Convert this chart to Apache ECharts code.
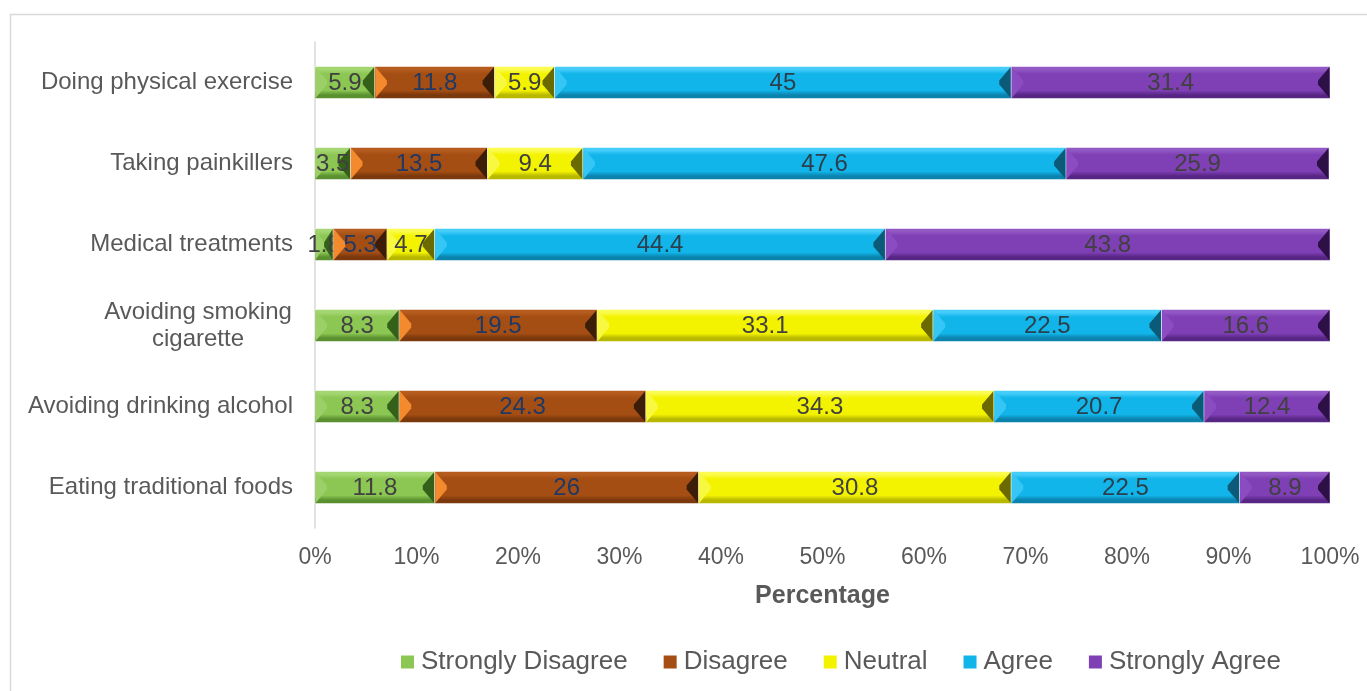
<!DOCTYPE html>
<html>
<head>
<meta charset="utf-8">
<script src="https://cdn.jsdelivr.net/npm/echarts@6/dist/echarts.min.js"></script>
<style>
  html, body { margin: 0; padding: 0; background: #fff; }
  #chart { width: 1367px; height: 691px; }
</style>
</head>
<body>
<div id="chart"></div>
<script>
// Survey items, top to bottom
const categories = [
  'Doing physical exercise',
  'Taking painkillers',
  'Medical treatments',
  'Avoiding smoking\ncigarette',
  'Avoiding drinking alcohol',
  'Eating traditional foods'
];
const seriesNames = ['Strongly Disagree', 'Disagree', 'Neutral', 'Agree', 'Strongly Agree'];

// Percentages per response level, in the order of categories
const stronglyDisagree = [5.9, 3.5, 1.8, 8.3, 8.3, 11.8];
const disagree         = [11.8, 13.5, 5.3, 19.5, 24.3, 26];
const neutral          = [5.9, 9.4, 4.7, 33.1, 34.3, 30.8];
const agree            = [45, 47.6, 44.4, 22.5, 20.7, 22.5];
const stronglyAgree    = [31.4, 25.9, 43.8, 16.6, 12.4, 8.9];

const xTickValues = [0, 10, 20, 30, 40, 50, 60, 70, 80, 90, 100];

const values = [stronglyDisagree, disagree, neutral, agree, stronglyAgree];

const FONT = 'Liberation Sans, Arial, sans-serif';

// Bevelled fill colours: top highlight, face, bottom shade, left facet, right facet
const palette = [
  { top: '#a4d672', face: '#8cc653', bottom: '#5a9030', left: '#9ccf68', right: '#34601a', label: '#404040' },
  { top: '#b55c1e', face: '#a54e13', bottom: '#7a380c', left: '#f38a2e', right: '#3c1d07', label: '#1f3864' },
  { top: '#fbfb50', face: '#f3f300', bottom: '#b8b800', left: '#f8f840', right: '#6a6a00', label: '#404040' },
  { top: '#45cdfa', face: '#12b5ea', bottom: '#0b83ad', left: '#35c6f5', right: '#0a5a78', label: '#2b3f4c' },
  { top: '#9258c4', face: '#7f3fb5', bottom: '#572684', left: '#8a4cc0', right: '#2d1045', label: '#404040' }
];

// Stack the segments: each datum is [start, end, categoryIndex, value]
const stacked = values.map(() => []);
categories.forEach((_, j) => {
  let acc = 0;
  values.forEach((arr, i) => {
    stacked[i].push([acc, acc + arr[j], j, arr[j]]);
    acc += arr[j];
  });
});

function makeRender(p) {
  return function (params, api) {
    const s = api.value(0), e = api.value(1), cat = api.value(2), v = api.value(3);
    const a = api.coord([s, cat]);
    const b = api.coord([e, cat]);
    const h = api.size([0, 1])[1] * 0.395;
    const x0 = a[0], x1 = b[0], yc = a[1];
    const y0 = yc - h / 2, y1 = yc + h / 2, w = x1 - x0;
    const bx = Math.min(12, w / 2);
    const by = h / 2 - 2;
    return {
      type: 'group',
      children: [
        {
          type: 'rect',
          shape: { x: x0, y: y0, width: w, height: h },
          style: {
            fill: new echarts.graphic.LinearGradient(0, 0, 0, 1, [
              { offset: 0, color: p.top },
              { offset: 0.1, color: p.top },
              { offset: 0.24, color: p.face },
              { offset: 0.74, color: p.face },
              { offset: 0.88, color: p.bottom },
              { offset: 1, color: p.bottom }
            ]),
            stroke: 'rgba(255,255,255,0.5)',
            lineWidth: 1
          }
        },
        {
          type: 'polygon',
          shape: { points: [[x0 + 0.5, y0 + 0.5], [x0 + bx, y0 + by], [x0 + bx, y1 - by], [x0 + 0.5, y1 - 0.5]] },
          style: { fill: p.left }
        },
        {
          type: 'polygon',
          shape: { points: [[x1 - 0.5, y0 + 0.5], [x1 - bx, y0 + by], [x1 - bx, y1 - by], [x1 - 0.5, y1 - 0.5]] },
          style: { fill: p.right }
        },
        {
          type: 'text',
          style: {
            x: (x0 + x1) / 2,
            y: yc + 1,
            text: String(v),
            fill: p.label,
            font: '24px ' + FONT,
            align: 'center',
            verticalAlign: 'middle'
          }
        }
      ]
    };
  };
}

const series = seriesNames.map((name, i) => ({
  name,
  type: 'custom',
  renderItem: makeRender(palette[i]),
  encode: { x: [0, 1], y: 2 },
  data: stacked[i],
  itemStyle: { color: palette[i].face },
  silent: true
}));

const chart = echarts.init(document.getElementById('chart'), null, { renderer: 'canvas' });
chart.setOption({
  animation: false,
  backgroundColor: '#fff',
  graphic: [{
    type: 'rect',
    shape: { x: 10.5, y: 14.5, width: 1400, height: 720 },
    style: { fill: 'none', stroke: '#d9d9d9', lineWidth: 1.5 },
    silent: true
  }],
  grid: { left: 315, right: 37, top: 42, bottom: 163, containLabel: false },
  legend: {
    bottom: 11,
    left: 396,
    itemWidth: 13,
    itemHeight: 13,
    itemGap: 36,
    icon: 'rect',
    textStyle: { fontSize: 26, color: '#595959', fontFamily: FONT, padding: [0, 0, 0, 2] },
    data: seriesNames.map((n, i) => ({ name: n, itemStyle: { color: palette[i].face } }))
  },
  xAxis: {
    type: 'value',
    min: 0,
    max: 100,
    interval: 10,
    name: 'Percentage',
    nameLocation: 'middle',
    nameGap: 56,
    nameTextStyle: { fontSize: 25, fontWeight: 'bold', color: '#595959', fontFamily: FONT },
    axisLine: { show: false },
    axisTick: { show: false },
    splitLine: { show: false },
    axisLabel: {
      fontSize: 23,
      color: '#595959',
      margin: 18,
      fontFamily: FONT,
      formatter: v => xTickValues.includes(v) ? v + '%' : ''
    }
  },
  yAxis: {
    type: 'category',
    inverse: true,
    data: categories,
    axisLine: { show: true, lineStyle: { color: '#d9d9d9', width: 1.5 } },
    axisTick: { show: false },
    axisLabel: {
      fontSize: 24,
      color: '#595959',
      margin: 22,
      align: 'right',
      fontFamily: FONT,
      // multi-line labels are centred line by line
      formatter: v => v.indexOf('\n') >= 0
        ? v.split('\n').map(t => '{c|' + t + '}').join('\n')
        : v,
      rich: {
        c: { fontSize: 24, color: '#595959', fontFamily: FONT, width: 190, align: 'center', lineHeight: 27 }
      }
    }
  },
  series
});
</script>
</body>
</html>
